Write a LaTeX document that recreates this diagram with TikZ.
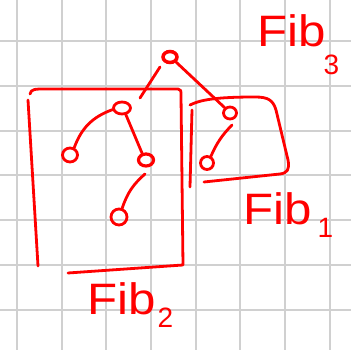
\documentclass[tikz,border=0pt]{standalone}
\usepackage{fontspec}
\setmainfont{Liberation Sans}
\usetikzlibrary{shapes.geometric}
\definecolor{gridgray}{RGB}{208,208,208}
\newcommand\subsz{\fontsize{28}{28}\selectfont}
\newcommand\fibword{\scalebox{1.12}[1]{Fib}}
\begin{document}
\begin{tikzpicture}[x=1pt,y=-1pt,
  gridline/.style={draw=gridgray,line width=2pt},
  ink/.style={draw=red,line width=2.8pt,line cap=round,line join=round},
  vtx/.style={ellipse,draw=red,line width=2.8pt,inner sep=0pt},
  lbl/.style={text=red,anchor=base west,inner sep=0pt,font=\fontsize{44}{44}\selectfont}
]
\useasboundingbox[fill=white] (0,0) rectangle (360,350);
% grid
\foreach \x in {17,61.7,106.4,151.1,195.8,240.5,285.2,329.9}
  \draw[gridline] (\x,0) -- (\x,350);
\foreach \y in {41,85.8,130.6,175.4,220.2,265,309.8}
  \draw[gridline] (0,\y) -- (351,\y);
% tree nodes
\node[vtx,line width=3.5pt,minimum width=14pt,minimum height=11pt] (r) at (170,57) {};
\node[vtx,minimum width=17pt,minimum height=12pt] (a) at (122,108) {};
\node[vtx,minimum width=13pt,minimum height=12pt] (b) at (230,113) {};
\node[vtx,minimum width=15pt,minimum height=14pt] (c) at (70,155) {};
\node[vtx,line width=3.2pt,minimum width=15pt,minimum height=12pt] (d) at (146,160) {};
\node[vtx,minimum width=16pt,minimum height=16pt] (e) at (119,217) {};
\node[vtx,minimum width=13pt,minimum height=13pt] (f) at (207,163) {};
% edges
\coordinate (ra1) at (160,67);
\coordinate (ra2) at (140,98);
\draw[ink] (ra1) -- (ra2);
\draw[ink] (r.-40) -- (b.135);
\draw[ink] (a.190) to[bend right=25] (c.60);
\draw[ink] (a.-60) -- (d.120);
\coordinate (de1) at (145,174);
\draw[ink] (de1) to[bend right=15] (e.70);
\coordinate (bf1) at (232,125);
\draw[ink] (bf1) to[bend right=10] (f.60);
% Fib2 box
\draw[ink] (30,94) .. controls (31,89) and (35,89) .. (45,89) -- (178,89)
  .. controls (181,89) and (181,91) .. (181,95) -- (183,265) -- (68,273);
\draw[ink] (28,100) -- (38,266);
% Fib1 box
\draw[ink] (190,105) .. controls (200,100) and (215,97) .. (255,97)
  .. controls (268,97) and (273,100) .. (276,110) -- (288,160)
  .. controls (290,170) and (287,173) .. (280,174) -- (204,182);
\draw[ink] (192,110) -- (190,187);
% labels
\node[lbl] (fib3) at (257,47) {\fibword\hspace{-2pt}\raisebox{-28pt}{\subsz 3}};
\node[lbl] (fib1) at (243,225) {\fibword\hspace{6pt}\raisebox{-13pt}{\subsz 1}};
\node[lbl] (fib2) at (87,315) {\fibword\hspace{2pt}\raisebox{-13pt}{\subsz 2}};
\end{tikzpicture}
\end{document}
